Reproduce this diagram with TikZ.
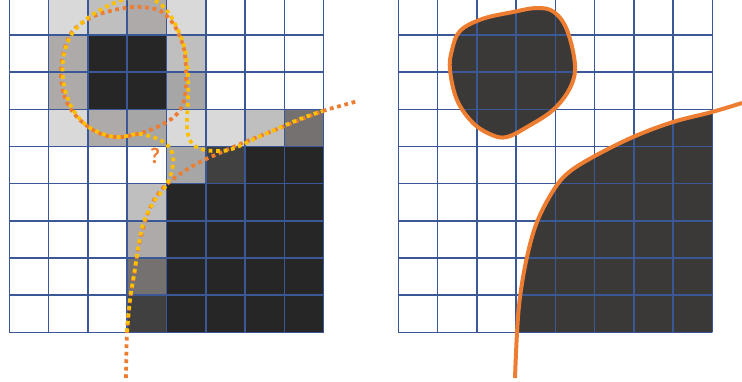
\documentclass[tikz,border=0pt]{standalone}
\usepackage{fontspec}
\setsansfont{Carlito}
\definecolor{gridblue}{HTML}{3A5896}
\definecolor{rimorange}{HTML}{ED7D31}
\definecolor{rimyellow}{HTML}{FFC000}
\definecolor{g1}{HTML}{D9D9D9}
\definecolor{g2}{HTML}{BFBFBF}
\definecolor{g3}{HTML}{AEAAAA}
\definecolor{g4}{HTML}{A6A6A6}
\definecolor{g5}{HTML}{767171}
\definecolor{g6}{HTML}{404040}
\definecolor{g7}{HTML}{262626}
\definecolor{blobfill}{HTML}{3B3838}

\begin{document}
\begin{tikzpicture}[
  x=0.03cm, y=-0.03cm,
  gridline/.style={draw=gridblue, line width=1.25pt},
  dots/.style={line width=3.2pt, dash pattern=on 3.2pt off 3.2pt},
  rim/.style={draw=rimorange, line width=3.4pt, line join=round},
  qlbl/.style={font=\sffamily\bfseries\fontsize{19}{19}\selectfont, text=rimorange, inner sep=0pt},
]
  \clip (0,0) rectangle (742,381);

  % left grid: pixel shades
  \begin{scope}[shift={(9.3,-2.2)}, xscale=39.3, yscale=37.17]
    \foreach \c/\r/\tone in {1/0/g1, 2/0/g2, 3/0/g3, 4/0/g1,
                             1/1/g3, 2/1/g7, 3/1/g7, 4/1/g2,
                             1/2/g3, 2/2/g7, 3/2/g7, 4/2/g4,
                             1/3/g1, 2/3/g3, 3/3/g4, 4/3/g1, 5/3/g1, 6/3/g2, 7/3/g5,
                             4/4/g4, 5/4/g6, 6/4/g7, 7/4/g7,
                             3/5/g2, 3/6/g3, 3/7/g5, 3/8/g6}
      \fill[\tone] (\c,\r) rectangle ++(1,1);
    \fill[g7] (4,5) rectangle (8,9);
    \foreach \i in {0,...,8} \draw[gridline] (\i,0) -- (\i,9);
    \foreach \j in {0,...,9} \draw[gridline] (0,\j) -- (8,\j);
  \end{scope}

  % left grid: dotted outlines
  \draw[dots, rimorange] plot[smooth cycle, tension=0.6] coordinates {
    (61,77) (64,95) (70,108) (80,120) (93,130) (107,136) (122,137) (137,134)
    (150,130) (163,124) (175,116) (183,104) (186,85) (185,55) (180,37)
    (172,22) (162,12) (150,8) (133,7) (110,11) (90,18) (72,32) (63,55)};
  \draw[dots, rimorange] plot[smooth, tension=0.6] coordinates {
    (126,378) (127,332) (130,300) (134,275) (140,240) (150,208) (163,188)
    (180,174) (200,162) (222,152) (245,142) (270,132) (297,121) (323,111)
    (340,106) (358,101)};
  \draw[dots, rimyellow] plot[smooth, tension=0.6] coordinates {
    (127,332) (130,300) (134,275) (142,228) (153,203) (167,184) (173,165)
    (171,150) (160,140) (140,134) (120,137) (103,134) (86,125) (72,108)
    (64,85) (63,60) (70,37) (84,21) (102,9) (122,0) (140,-4) (156,1)
    (168,12) (178,30) (185,50) (188,75) (188,100) (187,127) (191,142)
    (201,149) (216,151) (232,149) (263,135) (300,119) (323,111)};
  \node[qlbl] (qmark) at (155,156) {?};

  % right grid: shapes
  \begin{scope}
    \clip (398.3,-2.2) rectangle (712.3,332.3);
    \fill[blobfill] plot[smooth, tension=0.6] coordinates {
      (515,378) (517,333) (520,297) (527,257) (537,222) (553,191) (568,173)
      (593,157) (633,137) (673,122) (712,112) (742,103)} -- (742,381) -- cycle;
  \end{scope}
  \fill[blobfill] plot[smooth cycle, tension=0.6] coordinates {
    (460,31) (482,19) (513,12) (537,8) (554,12) (567,30) (575,65) (570,88)
    (553,110) (527,127) (507,137) (492,135) (473,123) (457,100) (450,70)
    (452,50)};
  \begin{scope}[shift={(398.3,-2.2)}, xscale=39.25, yscale=37.17]
    \foreach \i in {0,...,8} \draw[gridline] (\i,0) -- (\i,9);
    \foreach \j in {0,...,9} \draw[gridline] (0,\j) -- (8,\j);
  \end{scope}
  \draw[rim] plot[smooth cycle, tension=0.6] coordinates {
    (460,31) (482,19) (513,12) (537,8) (554,12) (567,30) (575,65) (570,88)
    (553,110) (527,127) (507,137) (492,135) (473,123) (457,100) (450,70)
    (452,50)};
  \draw[rim] plot[smooth, tension=0.6] coordinates {
    (515,378) (517,333) (520,297) (527,257) (537,222) (553,191) (568,173)
    (593,157) (633,137) (673,122) (712,112) (742,103)};
\end{tikzpicture}
\end{document}
